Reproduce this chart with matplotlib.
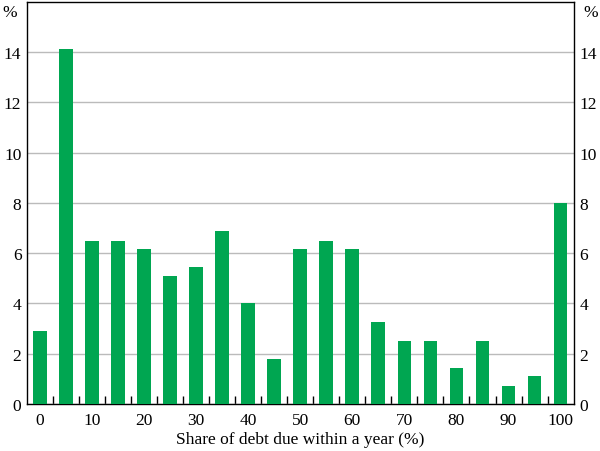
import numpy as np
import matplotlib.pyplot as plt

plt.rcParams['font.family'] = ['Liberation Serif', 'DejaVu Serif']

# share of debt due within a year (%) bins and share of firms (%)
shares = [0, 5, 10, 15, 20, 25, 30, 35, 40, 45, 50, 55, 60, 65, 70, 75, 80, 85, 90, 95, 100]
values = [2.9, 14.1, 6.5, 6.5, 6.15, 5.1, 5.45, 6.9, 4.0, 1.8, 6.15, 6.5, 6.15,
          3.25, 2.5, 2.5, 1.45, 2.5, 0.7, 1.1, 8.0]
yticks = [0, 2, 4, 6, 8, 10, 12, 14]

fig = plt.figure(figsize=(6, 4.52), dpi=100)
ax = fig.add_axes([0.045, 0.104, 0.911, 0.89])
x = np.arange(len(shares))
ax.bar(x, values, width=0.53, color='#00A651', zorder=3)

ax.set_xlim(-0.5, len(shares) - 0.5)
ax.set_ylim(0, 16)
ax.set_yticks(yticks)
ax.grid(True, axis='y', color='#BBBBBB', linewidth=1, zorder=0)
ax.tick_params(axis='y', length=0, labelsize=12.5, left=False, right=False,
               labelleft=True, labelright=True, pad=4)

# labels every 10%, small ticks between bars
ax.set_xticks(x[::2])
ax.set_xticklabels([str(s) for s in shares[::2]])
ax.set_xticks(x[:-1] + 0.5, minor=True)
ax.tick_params(axis='x', which='major', length=0, labelsize=12.5, pad=6)
ax.tick_params(axis='x', which='minor', direction='in', length=6, width=1, color='black')
ax.set_xlabel('Share of debt due within a year (%)', fontsize=12.5, labelpad=2)

for s in ax.spines.values():
    s.set_linewidth(1)

fig.text(0.004, 0.99, '%', fontsize=12.5, ha='left', va='top')
fig.text(0.996, 0.99, '%', fontsize=12.5, ha='right', va='top')

fig.savefig('out.png', dpi=100)
